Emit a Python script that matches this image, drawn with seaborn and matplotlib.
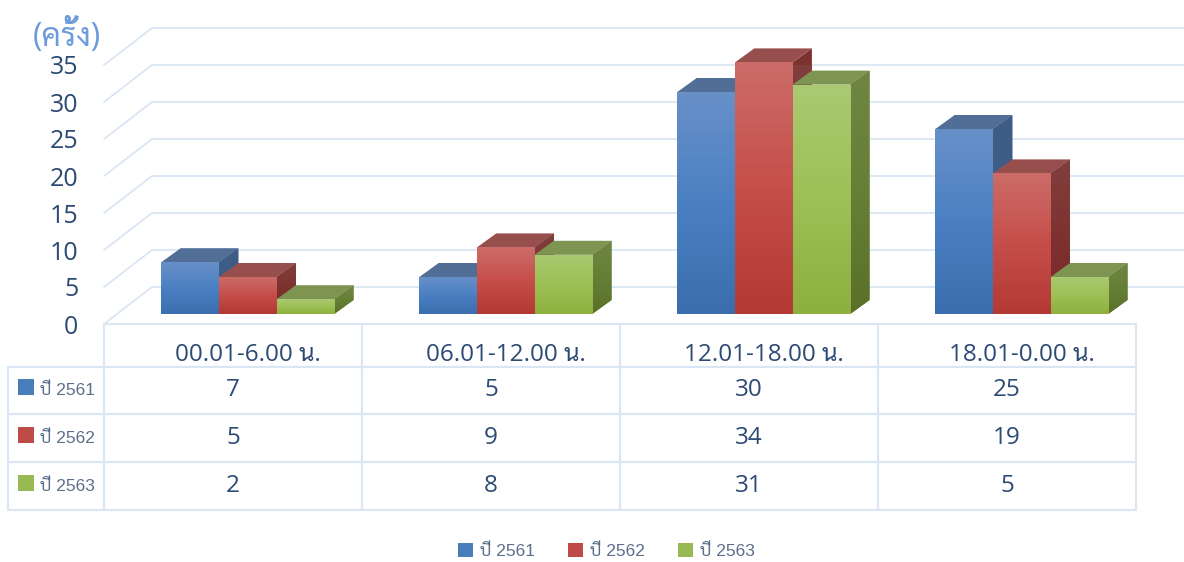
import numpy as np
import pandas as pd
import matplotlib
matplotlib.use('Agg')
import matplotlib.pyplot as plt
from matplotlib.colors import to_rgb
from matplotlib.patches import Polygon, Patch, Rectangle
from matplotlib.transforms import Affine2D
import seaborn as sns
import logging
logging.getLogger('matplotlib.font_manager').setLevel(logging.ERROR)

periods = ['00.01-6.00 น.', '06.01-12.00 น.', '12.01-18.00 น.', '18.01-0.00 น.']
years = ['ปี 2561', 'ปี 2562', 'ปี 2563']
y2561 = [7, 5, 30, 25]
y2562 = [5, 9, 34, 19]
y2563 = [2, 8, 31, 5]
y_ticks = [0, 5, 10, 15, 20, 25, 30, 35]
y_unit = '(ครั้ง)'

W, H = 1184, 562
LINE = '#DAE6F4'
TXT = '#2C4A74'
BASE = {'ปี 2561': '#4A7EBB', 'ปี 2562': '#BE4B48', 'ปี 2563': '#98B954'}
FRONT = [['#6890C8', '#4A80C2', '#3A6EAE'], ['#CC6C68', '#C64E4A', '#B23934'], ['#AAC972', '#9EC055', '#8DB040']]
TOP = ['#506E96', '#964F4C', '#7E9552']
SIDE = [['#3F5D87', '#3D5C86', '#375480'], ['#803F3D', '#7E3230', '#782624'], ['#6F8642', '#667F36', '#5A7029']]
THAI = 'Sarabun'

sns.set_theme(style='white')
plt.rcParams['font.family'] = ['Open Sans', THAI, 'DejaVu Sans']

df = pd.DataFrame({
    'period': np.tile(periods, 3),
    'year': np.repeat(years, 4),
    'count': y2561 + y2562 + y2563,
})

fig = plt.figure(figsize=(W / 100, H / 100), dpi=100, facecolor='white')
ax = fig.add_axes([104 / W, 1 - 324 / H, 1032 / W, 259 / H])
sns.barplot(data=df, x='period', y='count', hue='year', order=periods, hue_order=years,
            palette=BASE, width=0.67, gap=0, dodge=True, legend=False, saturation=1, ax=ax)
ax.set_xlim(-0.5, 3.5)
ax.set_ylim(0, 35)

px_x, px_y = 258.0, 7.4          # pixels per category / per count
shift = Affine2D().translate(14.8 / px_x, 10 / px_y) + ax.transData
ddx, ddy = 19.3 / px_x, 14 / px_y
wall_dx, wall_dy = 48 / px_x, 37 / px_y
right_edge = -0.5 + (W - 104) / px_x


def gradient(extent, stops, clip, z):
    rows = np.linspace(0, 1, 80)
    s = np.array([to_rgb(c) for c in stops])
    img = np.stack([np.interp(rows, [0, .5, 1], s[:, i]) for i in range(3)], axis=-1)[:, None, :]
    im = ax.imshow(img, extent=extent, aspect='auto', origin='upper', interpolation='nearest', zorder=z)
    im.set_transform(shift)
    im.set_clip_path(clip)
    return im


for h_i, cont in enumerate(ax.containers):
    for bar in cont:
        x0, w, v = bar.get_x(), bar.get_width(), bar.get_height()
        x1 = x0 + w
        z = 3 + h_i
        bar.set_transform(shift)
        bar.set_clip_on(False)
        bar.set_zorder(z + .3)
        bar.set_linewidth(0)
        side = Polygon([(x1, 0), (x1 + ddx, ddy), (x1 + ddx, v + ddy), (x1, v)], transform=shift,
                       fc=SIDE[h_i][1], ec='none', zorder=z, clip_on=False)
        ax.add_patch(side)
        top = Polygon([(x0, v), (x0 + ddx, v + ddy), (x1 + ddx, v + ddy), (x1, v)], transform=shift,
                      fc=TOP[h_i], ec='none', zorder=z + .1, clip_on=False)
        ax.add_patch(top)
        gradient((x1, x1 + ddx, 0, v + ddy), SIDE[h_i], side, z + .05)
        face = Rectangle((x0, 0), w, v, transform=shift)
        gradient((x0, x1, 0, v), FRONT[h_i], face, z + .4)

ax.set_xlim(-0.5, 3.5)
ax.set_ylim(0, 35)

# back wall gridlines with the diagonal from the front plane
for v in y_ticks:
    ax.plot([-0.5, -0.5 + wall_dx, right_edge], [v, v + wall_dy, v + wall_dy], color=LINE, lw=1.3,
            zorder=1, clip_on=False, solid_joinstyle='miter')

sns.despine(ax=ax, left=True, bottom=True, top=True, right=True)
ax.set_facecolor('none')
ax.set_xlabel('')
ax.set_ylabel(y_unit, rotation=0, color='#6C9BDC', fontsize=23, ha='center', va='center')
ax.yaxis.set_label_coords((67 - 104) / 1032, (324 - 36) / 259)
ax.set_yticks(y_ticks)
ax.tick_params(axis='y', length=0, pad=18.5, labelsize=18, labelcolor=TXT)
ax.set_xticks(np.arange(4) + 15 / px_x, labels=periods)
ax.tick_params(axis='x', length=0, pad=22, labelsize=17.5, labelcolor=TXT)
for lab in ax.get_xticklabels():
    lab.set_va('center')

# data table under the plot
rows = [[''] + [''] * 4]
for name, vals in zip(years, (y2561, y2562, y2563)):
    rows.append([name] + [str(x) for x in vals])
tb = ax.table(cellText=rows, colWidths=[96 / 1128] + [258 / 1128] * 4, cellLoc='center',
              bbox=[(8 - 104) / 1032, (324 - 510) / 259, 1128 / 1032, 186 / 259])
tb.auto_set_font_size(False)
row_h = [43, 47, 48, 48]
for (r, c), cell in tb.get_celld().items():
    cell.set_height(row_h[r] / 186)
    cell.set_edgecolor(LINE)
    cell.set_linewidth(1.5)
    cell.set_facecolor('none')
    cell.get_text().set_fontsize(17.5)
    cell.get_text().set_color(TXT)
    if r == 0 and c == 0:
        cell.visible_edges = ''
    if c == 0 and r > 0:
        cell.PAD = 0.335
        cell.get_text().set_ha('left')
        cell._loc = 'left'
        cell.get_text().set_fontsize(12.5)
        cell.get_text().set_color('#5B6F8C')
        cell.get_text().set_family(['Liberation Sans', THAI, 'DejaVu Sans'])

# legend keys inside the table's row header
for i, key_top in enumerate([379, 427, 475]):
    y = 1 - (key_top + 16) / H
    fig.patches.append(Rectangle((18 / W, y), 15.5 / W, 16 / H, transform=fig.transFigure,
                                 fc=BASE[years[i]], ec='none'))

handles = [Patch(fc=BASE[y], ec='none', label=y) for y in years]
leg = fig.legend(handles=handles, ncol=3, frameon=False, loc='center', bbox_to_anchor=(606 / W, 1 - 551 / H),
                 prop={'family': ['Liberation Sans', THAI, 'DejaVu Sans'], 'size': 12.5},
                 labelcolor='#5B6F8C', handlelength=0.87, handleheight=0.87, handletextpad=0.4, columnspacing=1.9)

fig.savefig('out.png', dpi=100, facecolor='white')
